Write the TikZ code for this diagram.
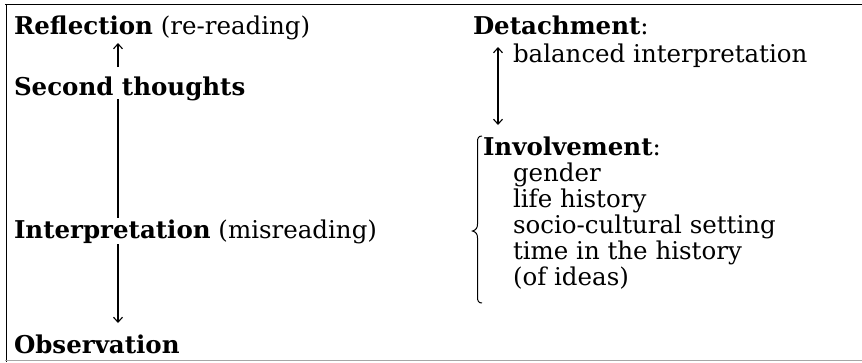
\documentclass[tikz,border=0pt]{standalone}
\usepackage{fontspec}
\setmainfont{DejaVu Serif}
\usetikzlibrary{arrows.meta,calc}
\tikzset{
  txt/.style={anchor=base west, inner sep=0pt, outer sep=0pt, font=\fontsize{24.5}{26}\selectfont},
  conn/.style={line width=1.1pt},
  arr/.style={conn, -{Straight Barb[length=5pt,width=9pt,line width=1.1pt]}},
  darr/.style={conn, {Straight Barb[length=5pt,width=9pt,line width=1.1pt]}-{Straight Barb[length=5pt,width=9pt,line width=1.1pt]}},
  frame/.style={line width=1.8pt},
}
\begin{document}
\begin{tikzpicture}[x=1pt,y=-1pt]
\useasboundingbox (0,0) rectangle (862,362);
% frame
\draw[frame] (5,4.5) -- (862,4.5);
\draw[frame] (6.5,4) -- (6.5,362);
\draw[line width=1.5pt, black!35] (5,360.5) -- (862,360.5);
% left column
\node[txt] (refl) at (14,34) {\textbf{Reflection} (re-reading)};
\node[txt] (st) at (14,95) {\textbf{Second thoughts}};
\node[txt] (interp) at (14,238) {\textbf{Interpretation} (misreading)};
\node[txt] (obs) at (14,353) {\textbf{Observation}};
\coordinate (lx) at (118,0);
\draw[arr] ($(st.base -| lx)+(0,-28)$) -- ($(refl.base -| lx)+(0,9)$);
\draw[conn] ($(st.base -| lx)+(0,4)$) -- ($(interp.base -| lx)+(0,-20)$);
\draw[arr] ($(interp.base -| lx)+(0,6)$) -- ($(obs.base -| lx)+(0,-30)$);
% right column
\node[txt] (det) at (473,34) {\textbf{Detachment}:};
\node[txt] (bal) at (513,62) {balanced interpretation};
\node[txt] (inv) at (483,155) {\textbf{Involvement}:};
\node[txt] (g1) at (513,181) {gender};
\node[txt] (g2) at (513,207) {life history};
\node[txt] (g3) at (513,233) {socio-cultural setting};
\node[txt] (g4) at (513,259) {time in the history};
\node[txt] (g5) at (513,285) {(of ideas)};
\coordinate (rx) at (498,0);
\draw[darr] ($(det.base -| rx)+(0,13)$) -- ($(inv.base -| rx)+(0,-30)$);
% brace
\draw[line width=1pt] (482,136) .. controls (478.5,136) and (477.5,138) .. (477.5,142)
  -- (477.5,224) .. controls (477.5,228) and (476,230) .. (472.5,231)
  .. controls (476,232) and (477.5,234) .. (477.5,238)
  -- (477.5,297) .. controls (477.5,301) and (478.5,303) .. (482,303);
\end{tikzpicture}
\end{document}
